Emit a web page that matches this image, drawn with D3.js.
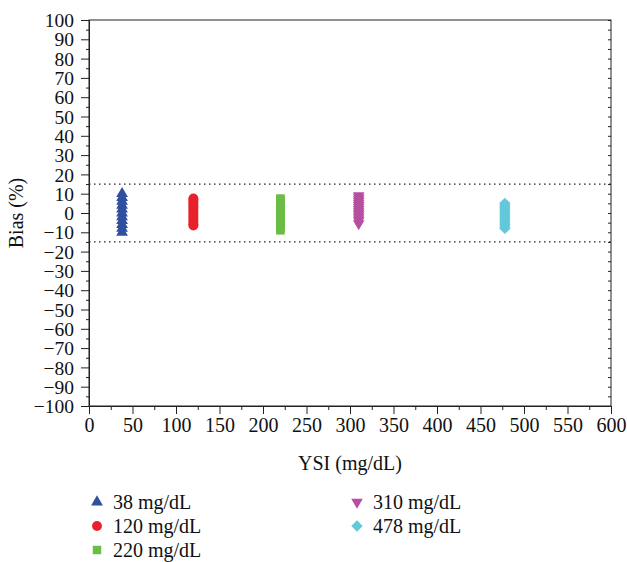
<!DOCTYPE html>
<html>
<head>
<meta charset="utf-8">
<script src="https://cdn.jsdelivr.net/npm/d3@7"></script>
<style>
  body { margin: 0; background: #fff; }
  svg { display: block; }
  text { font-family: "Liberation Serif", "Times New Roman", serif; fill: #111; }
</style>
</head>
<body>
<svg id="chart" width="627" height="562"></svg>
<script>
// Glucose levels tested (YSI reference, mg/dL)
const levels = [38, 120, 220, 310, 478];
const seriesNames = ["38 mg/dL", "120 mg/dL", "220 mg/dL", "310 mg/dL", "478 mg/dL"];
const seriesColors = ["#2f4f9f", "#e8212b", "#6bbd45", "#b64fa1", "#64c8db"];
const seriesSymbols = ["triangle", "circle", "square", "triangleDown", "diamond"];

// Bias (%) of each reading at each level
const bias38 = [-10, -8, -6, -4, -2, 0, 2, 4, 6, 8, 10];
const bias120 = [-6.5, -6, -5, -4, -3, -2, -1, 0, 1, 2, 3, 4, 5, 6, 7, 7.5];
const bias220 = [-9, -8, -7, -6, -5, -4, -3, -2, -1, 0, 1, 2, 3, 4, 5, 6, 7, 7.5];
const bias310 = [-5.5, -4, -3, -2, -1, 0, 1, 2, 3, 4, 5, 6, 7, 8, 9];
const bias478 = [-8, -7, -6, -5, -4, -3, -2, -1, 0, 1, 2, 3, 4, 5];
const biasSeries = [bias38, bias120, bias220, bias310, bias478];

// Acceptance limits (%)
const limits = [15, -15];

const yTicks = d3.range(-100, 101, 10);
const xTicks = d3.range(0, 601, 50);

const svg = d3.select("#chart");
const plotLeft = 89, plotRight = 611, plotTop = 20, plotBottom = 406;
const fontSize = "20px";
const yTickFontSize = "19.5px";

const x = d3.scaleLinear().domain([0, 600]).range([plotLeft, plotRight]);
const y = d3.scaleLinear().domain([-100, 100]).range([plotBottom, plotTop]);

const g = svg.append("g");

// frame
g.append("rect")
  .attr("x", plotLeft).attr("y", plotTop)
  .attr("width", plotRight - plotLeft).attr("height", plotBottom - plotTop)
  .attr("fill", "none").attr("stroke", "#222").attr("stroke-width", 1);

// left axis: major + minor ticks outward
const yAxis = d3.axisLeft(y).tickValues(yTicks).tickSize(8).tickPadding(7)
  .tickFormat(d => d < 0 ? "\u2212" + Math.abs(d) : d);
const ya = g.append("g").attr("transform", `translate(${plotLeft},0)`).call(yAxis);
ya.select(".domain").attr("stroke", "#222");
ya.selectAll(".tick line").attr("stroke", "#222");
ya.selectAll("text").style("font-size", yTickFontSize).attr("dy", "0.34em");
g.append("g").attr("transform", `translate(${plotLeft},0)`)
  .call(d3.axisLeft(y).tickValues(d3.range(-95, 100, 10)).tickSize(3).tickFormat(""))
  .call(s => s.select(".domain").remove())
  .selectAll("line").attr("stroke", "#222");

// right axis: small inward ticks
g.append("g").attr("transform", `translate(${plotRight},0)`)
  .call(d3.axisRight(y).tickValues(d3.range(-100, 101, 5)).tickSize(-3).tickFormat(""))
  .call(s => s.select(".domain").remove())
  .selectAll("line").attr("stroke", "#222");

// bottom axis
const xAxis = d3.axisBottom(x).tickValues(xTicks).tickSize(8).tickPadding(4);
const xa = g.append("g").attr("transform", `translate(0,${plotBottom})`).call(xAxis);
xa.select(".domain").attr("stroke", "#222");
xa.selectAll(".tick line").attr("stroke", "#222");
xa.selectAll("text").style("font-size", fontSize);
g.append("g").attr("transform", `translate(0,${plotBottom})`)
  .call(d3.axisBottom(x).tickValues(d3.range(25, 600, 50)).tickSize(4).tickFormat(""))
  .call(s => s.select(".domain").remove())
  .selectAll("line").attr("stroke", "#222");

// axis titles
g.append("text").attr("x", (plotLeft + plotRight) / 2).attr("y", 470)
  .attr("text-anchor", "middle").style("font-size", fontSize).text("YSI (mg/dL)");
g.append("text").attr("transform", `translate(23,${y(0)}) rotate(-90)`)
  .attr("text-anchor", "middle").style("font-size", fontSize).text("Bias (%)");

// acceptance limit lines
g.selectAll(".limit").data(limits).join("line")
  .attr("x1", plotLeft).attr("x2", plotRight)
  .attr("y1", d => y(d)).attr("y2", d => y(d))
  .attr("stroke", "#222").attr("stroke-width", 1.2)
  .attr("stroke-dasharray", "1.5,3.5");

// marker shapes
const symbolTypes = {
  triangle: d3.symbolTriangle,
  circle: d3.symbolCircle,
  square: d3.symbolSquare,
  triangleDown: d3.symbolTriangle,
  diamond: d3.symbolSquare
};
const symbolSizes = { triangle: 60, circle: 76, square: 72, triangleDown: 58, diamond: 64 };
const symbolRotate = { triangleDown: 180, diamond: 45 };
function symbolPath(name) {
  return d3.symbol().type(symbolTypes[name]).size(symbolSizes[name])();
}
function symbolTransform(name, cx, cy) {
  const r = symbolRotate[name];
  return `translate(${cx},${cy})` + (r ? ` rotate(${r})` : "");
}

// points
biasSeries.forEach((vals, i) => {
  const sym = seriesSymbols[i];
  g.append("g").selectAll("path").data(vals).join("path")
    .attr("d", symbolPath(sym))
    .attr("transform", d => symbolTransform(sym, x(levels[i]), y(d)))
    .attr("fill", seriesColors[i]);
});

// legend
const legendPos = [[97, 502], [97, 526], [97, 550], [357, 502], [357, 526]];
seriesNames.forEach((name, i) => {
  const [lx, ly] = legendPos[i];
  const sym = seriesSymbols[i];
  g.append("path").attr("d", symbolPath(sym))
    .attr("transform", symbolTransform(sym, lx, ly))
    .attr("fill", seriesColors[i]);
  g.append("text").attr("x", lx + 16).attr("y", ly + 7)
    .style("font-size", fontSize).text(name);
});
</script>
</body>
</html>
